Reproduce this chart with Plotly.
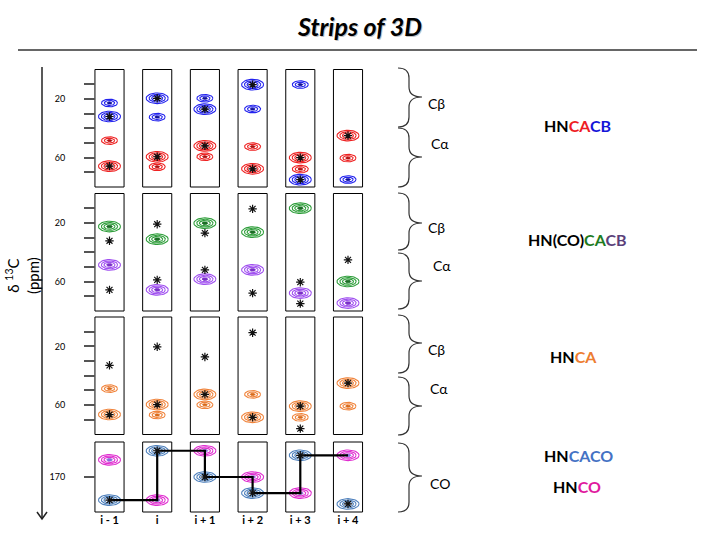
import numpy as np
import plotly.graph_objects as go

W, H = 720, 540

# ---------------- data ----------------
strips = ["i - 1", "i", "i + 1", "i + 2", "i + 3", "i + 4"]

# HNCACB panel (ppm)
hncacb_cb_own = [32.0, 19.6, 27.0, 10.3, 75.0, None]
hncacb_ca_own = [65.8, 59.4, 52.0, 67.6, 60.0, 45.0]
hncacb_cb_prev = [22.8, 32.4, 19.6, 26.9, 10.3, 74.9]
hncacb_ca_prev = [48.4, 66.2, 59.4, 52.5, 67.8, 60.3]

# HN(CO)CACB panel (ppm)
cocacb_green = [22.5, 31.1, 20.2, 26.3, 10.0, 59.9]
cocacb_purple = [48.6, 65.6, 58.3, 52.0, 67.8, 74.6]
cocacb_star_cb = [32.2, 20.9, 27.0, 10.5, 75.0, None]
cocacb_star_ca = [65.6, 58.8, 52.0, 67.8, 60.4, 45.2]

# HNCA panel (ppm)
hnca_ca_own = [66.4, 59.6, 52.7, 68.3, 60.7, 45.0]
hnca_ca_prev = [48.8, 66.7, 59.8, 52.7, 68.3, 60.7]
hnca_star_cb = [32.9, 20.3, 27.2, 10.7, 76.0, None]

# CO panel (ppm)
hncaco_co = [176.6, 162.5, 170.0, 174.6, 163.8, 177.7]
hnco_co = [165.1, 176.6, 162.5, 170.0, 174.6, 163.8]

ca_cb_minor_ticks = [10, 20, 30, 40, 50, 60, 70]
ca_cb_ticks = [20, 60]
ca_cb_ticklabels = ["20", "60"]
co_ticks = [170]
co_ticklabels = ["170"]

# ---------------- geometry helpers ----------------
def X(px):
    return px / W

def Y(py):
    return 1 - py / H

x_left, x_right = 61.8, 395.7
x_range = [-1, 6]
XPX = (x_right - x_left) / (x_range[1] - x_range[0])

# (top px, bottom px, range)
panels = [
    (69.5, 187.0, [80, 0]),
    (193.5, 311.0, [80, 0]),
    (317.0, 434.5, [80, 0]),
    (442.0, 512.0, [180, 160]),
]
ypx = [(b - t) / abs(r[0] - r[1]) for t, b, r in panels]

fig = go.Figure()

t = np.linspace(0, 2 * np.pi, 41)


def add_peaks(vals, panel, ring_color, fill_color, big=True):
    xs = [k for k, v in enumerate(vals) if v is not None]
    ys = [v for v in vals if v is not None]
    ax_px, ay_px = (11.0, 5.3) if big else (8.0, 3.8)
    scales = [1.0, 0.74, 0.5] if big else [1.0, 0.64]
    cscale = 0.26 if big else 0.3
    RX, RY, CX, CY = [], [], [], []
    for x, y in zip(xs, ys):
        for s in scales:
            RX += list(x + s * ax_px / XPX * np.cos(t)) + [None]
            RY += list(y + s * ay_px / ypx[panel] * np.sin(t)) + [None]
        CX += list(x + cscale * ax_px / XPX * np.cos(t)) + [None]
        CY += list(y + cscale * ay_px / ypx[panel] * np.sin(t)) + [None]
    yname = "y" if panel == 0 else f"y{panel + 1}"
    fig.add_trace(go.Scatter(x=CX, y=CY, mode="lines", fill="toself",
                             fillcolor=fill_color, line=dict(color=fill_color, width=0.8),
                             xaxis="x", yaxis=yname, hoverinfo="skip", showlegend=False))
    fig.add_trace(go.Scatter(x=RX, y=RY, mode="lines",
                             line=dict(color=ring_color, width=1.1),
                             xaxis="x", yaxis=yname, hoverinfo="skip", showlegend=False))


def add_stars(vals, panel):
    xs = [k for k, v in enumerate(vals) if v is not None]
    ys = [v for v in vals if v is not None]
    yname = "y" if panel == 0 else f"y{panel + 1}"
    fig.add_trace(go.Scatter(x=xs, y=ys, mode="markers",
                             marker=dict(symbol="asterisk-open", size=7, color="#111111",
                                         line=dict(width=1.2, color="#111111")),
                             xaxis="x", yaxis=yname, hoverinfo="skip", showlegend=False))


BLUE, BLUE_C = "#2222ee", "#10109a"
RED, RED_C = "#ee2222", "#b01010"
GREEN, GREEN_C = "#2e9e3a", "#1b6e24"
PURPLE, PURPLE_C = "#a050f0", "#7a30c8"
ORANGE, ORANGE_C = "#f0843c", "#d86a1a"
STEEL, STEEL_C = "#4f81bd", "#8fb0dd"
MAG, MAG_C = "#e02ed0", "#8b6cd9"

# panel 1 HNCACB
add_peaks(hncacb_cb_prev, 0, BLUE, BLUE_C, big=False)
add_peaks(hncacb_ca_prev, 0, RED, RED_C, big=False)
add_peaks(hncacb_cb_own, 0, BLUE, BLUE_C, big=True)
add_peaks(hncacb_ca_own, 0, RED, RED_C, big=True)
add_stars(hncacb_cb_own, 0)
add_stars(hncacb_ca_own, 0)

# panel 2 HN(CO)CACB
add_peaks(cocacb_green, 1, GREEN, GREEN_C, big=True)
add_peaks(cocacb_purple, 1, PURPLE, PURPLE_C, big=True)
add_stars(cocacb_star_cb, 1)
add_stars(cocacb_star_ca, 1)

# panel 3 HNCA
add_peaks(hnca_ca_prev, 2, ORANGE, ORANGE_C, big=False)
add_peaks(hnca_ca_own, 2, ORANGE, ORANGE_C, big=True)
add_stars(hnca_ca_own, 2)
add_stars(hnca_star_cb, 2)

# panel 4 CO
add_peaks(hnco_co, 3, MAG, MAG_C, big=True)
add_peaks(hncaco_co, 3, STEEL, STEEL_C, big=True)
wx, wy = [0], [hncaco_co[0]]
for k in range(1, len(strips)):
    wx.append(k); wy.append(hnco_co[k])
    if k < len(strips) - 1:
        wx.append(k); wy.append(hncaco_co[k])
fig.add_trace(go.Scatter(x=wx, y=wy, mode="lines", line=dict(color="black", width=2.2),
                         xaxis="x", yaxis="y4", hoverinfo="skip", showlegend=False))
add_stars(hncaco_co, 3)

# ---------------- axes ----------------
layout_axes = {}
for i, (top, bot, rng) in enumerate(panels):
    name = "yaxis" if i == 0 else f"yaxis{i + 1}"
    if i == 3:
        tv, tt, minor = co_ticks, co_ticklabels, None
    else:
        tv, tt = ca_cb_ticks, ca_cb_ticklabels
        minor = dict(tickvals=ca_cb_minor_ticks, ticks="outside", ticklen=11,
                     tickwidth=1.5, tickcolor="#555555", showgrid=False)
    ax = dict(
        domain=[Y(bot), Y(top)], range=rng, anchor="free", position=X(95),
        showgrid=False, zeroline=False, showline=False,
        ticks="outside", ticklen=11, tickwidth=1.5, tickcolor="#555555",
        tickvals=tv, ticktext=tt, ticklabelstandoff=17,
        tickfont=dict(size=9, color="black", family="Lato"),
    )
    if minor:
        ax["minor"] = minor
    layout_axes[name] = ax

shapes = []
for i in range(len(panels)):
    yref = "y domain" if i == 0 else f"y{i + 1} domain"
    for k in range(len(strips)):
        shapes.append(dict(type="rect", xref="x", yref=yref, x0=k - 0.305, x1=k + 0.305,
                           y0=0, y1=1, line=dict(color="black", width=1), layer="below"))

# title rule
shapes.append(dict(type="line", xref="paper", yref="paper", x0=X(18), x1=X(697),
                   y0=Y(50), y1=Y(50), line=dict(color="#333333", width=1.5)))
# vertical arrow
shapes.append(dict(type="line", xref="paper", yref="paper", x0=X(42), x1=X(42),
                   y0=Y(67), y1=Y(519), line=dict(color="#222222", width=1.5)))
shapes.append(dict(type="path", xref="paper", yref="paper",
                   path=f"M {X(37)},{Y(512)} L {X(42)},{Y(519)} L {X(47)},{Y(512)}",
                   line=dict(color="#222222", width=1.5)))


def brace(yT, yM, yB, xL=398, xm=409, xR=422, r=10):
    return (f"M {X(xL)},{Y(yT)} Q {X(xm)},{Y(yT)} {X(xm)},{Y(yT + r)} "
            f"L {X(xm)},{Y(yM - r)} Q {X(xm)},{Y(yM)} {X(xR)},{Y(yM)} "
            f"Q {X(xm)},{Y(yM)} {X(xm)},{Y(yM + r)} "
            f"L {X(xm)},{Y(yB - r)} Q {X(xm)},{Y(yB)} {X(xL)},{Y(yB)}")


braces = [(68, 97, 127), (128, 157, 187), (193, 223, 250), (253, 281, 309),
          (315, 343, 373), (377, 406, 435), (443, 476, 512)]
for b in braces:
    shapes.append(dict(type="path", xref="paper", yref="paper", path=brace(*b),
                       line=dict(color="#333333", width=1.2)))

annotations = []


def ann(text, px, py, size, **kw):
    d = dict(text=text, x=X(px), y=Y(py), xref="paper", yref="paper", showarrow=False,
             xanchor="center", yanchor="middle",
             font=dict(size=size, color=kw.pop("color", "black"), family="Lato"))
    d.update(kw)
    annotations.append(d)


brace_labels = [("Cβ", 437, 103), ("Cα", 440, 143), ("Cβ", 437, 227), ("Cα", 442, 265),
                ("Cβ", 437, 349), ("Cα", 439, 388), ("CO", 440, 483)]
for txt, px, py in brace_labels:
    ann(txt, px, py, 14)


def col(t, c):
    return f"<span style='color:{c}'>{t}</span>"


exp_labels = [
    ("HN" + col("CA", "#ee1c24") + col("CB", "#1515d8"), 577, 125),
    ("HN(CO)" + col("CA", "#1e7b1e") + col("CB", "#5b3f7a"), 577, 239),
    ("HN" + col("CA", "#ed7d31"), 573, 356),
    ("HN" + col("CACO", "#4472c4"), 578, 455),
    ("HN" + col("CO", "#e0199e"), 577, 486),
]
for txt, px, py in exp_labels:
    ann(f"<b>{txt}</b>", px, py, 16)

# title with soft shadow
ann("<b><i>Strips of 3D</i></b>", 360.5, 27, 25, color="rgba(120,120,120,0.45)")
ann("<b><i>Strips of 3D</i></b>", 359, 25.5, 25)

# y axis title
ann("δ <sup>13</sup>C<br>(ppm)", 22, 276, 15, textangle=-90)

fig.update_layout(
    width=W, height=H, margin=dict(l=0, r=0, t=0, b=0),
    paper_bgcolor="white", plot_bgcolor="white", showlegend=False,
    xaxis=dict(domain=[X(x_left), X(x_right)], range=x_range, anchor="y4", side="bottom",
               showgrid=False, zeroline=False, showline=False, ticks="",
               tickvals=list(range(len(strips))), ticktext=[f"<b>{s}</b>" for s in strips],
               tickfont=dict(size=11, color="black", family="Lato")),
    shapes=shapes, annotations=annotations,
    **layout_axes,
)

fig.write_html("out.html", config={"displayModeBar": False},
               post_script="document.body.style.margin='0';")
